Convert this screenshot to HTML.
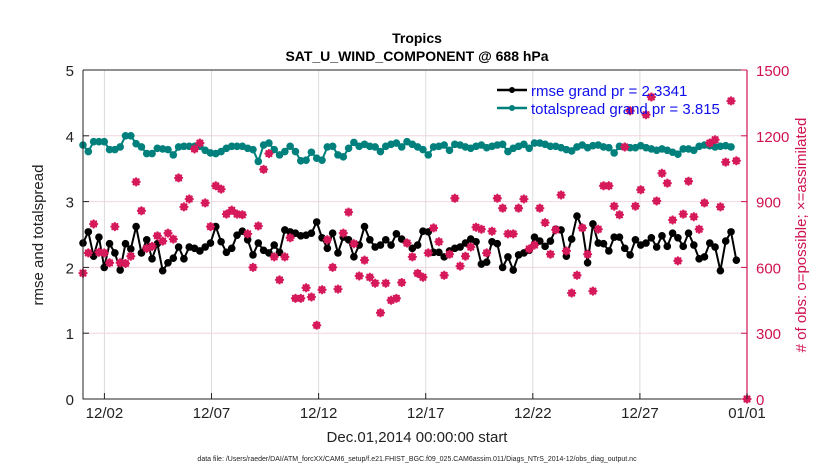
<!DOCTYPE html>
<html><head><meta charset="utf-8"><style>
body{margin:0;background:#fff;}
svg text{font-family:"Liberation Sans",Arial,sans-serif;}
</style></head><body>
<svg id="chart" width="830" height="470" xmlns="http://www.w3.org/2000/svg">
<text x="417" y="43" text-anchor="middle" font-size="14" font-weight="bold">Tropics</text>
<text x="417" y="61" text-anchor="middle" font-size="14" font-weight="bold">SAT_U_WIND_COMPONENT @ 688 hPa</text>
<g id="grid"></g>
<g id="marks"></g>
<g id="axes"></g>
<text transform="translate(43,235) rotate(-90)" text-anchor="middle" font-size="15" fill="#222">rmse and totalspread</text>
<text transform="translate(806,235) rotate(-90)" text-anchor="middle" font-size="15" fill="#d0124f"># of obs: o=possible; ×=assimilated</text>
<text x="417" y="442" text-anchor="middle" font-size="15" fill="#222">Dec.01,2014 00:00:00 start</text>
<text x="417" y="461" text-anchor="middle" font-size="7" fill="#222">data file: /Users/raeder/DAI/ATM_forcXX/CAM6_setup/f.e21.FHIST_BGC.f09_025.CAM6assim.011/Diags_NTrS_2014-12/obs_diag_output.nc</text>
<g id="legend">
<line x1="497" y1="90" x2="527" y2="90" stroke="#000" stroke-width="2.5"/>
<circle cx="512" cy="90" r="3" fill="#000"/>
<text x="531" y="96" font-size="15" fill="#1010ee">rmse grand pr = 2.3341</text>
<line x1="497" y1="108" x2="527" y2="108" stroke="#00807c" stroke-width="2.5"/>
<circle cx="512" cy="108" r="3" fill="#00807c"/>
<text x="531" y="114" font-size="15" fill="#1010ee">totalspread grand pr = 3.815</text>
</g>
</svg>
<script>
const rmse=[2.37,2.54,2.17,2.46,2.0,2.36,2.22,1.96,2.36,2.28,2.62,2.22,2.42,2.13,2.36,1.95,2.07,2.14,2.31,2.13,2.31,2.29,2.25,2.31,2.37,2.62,2.39,2.23,2.29,2.49,2.55,2.42,2.19,2.37,
2.26,2.22,2.34,2.23,2.57,2.54,2.52,2.48,2.49,2.52,2.69,2.45,2.29,2.52,2.22,2.46,2.42,2.16,2.34,2.62,2.42,2.31,2.34,2.42,2.34,2.51,2.43,2.37,2.29,2.34,2.55,
2.54,2.23,2.23,2.16,2.25,2.29,2.31,2.37,2.43,2.39,2.05,2.08,2.39,2.36,2.0,2.16,1.96,2.19,2.22,2.26,2.46,2.4,2.32,2.4,2.58,2.57,2.17,2.43,2.78,2.6,
2.07,2.66,2.37,2.36,2.25,2.46,2.46,2.29,2.19,2.42,2.34,2.37,2.45,2.31,2.48,2.32,2.52,2.45,2.32,2.52,2.34,2.13,2.16,2.37,2.31,1.95,2.4,2.54,2.11];
const spread=[3.86,3.76,3.91,3.91,3.91,3.79,3.79,3.83,4.0,4.0,3.88,3.83,3.73,3.73,3.81,3.80,3.79,3.71,3.83,3.84,3.84,3.84,3.84,3.78,3.74,3.73,3.76,3.81,3.84,3.84,3.84,3.81,3.79,3.61,
3.86,3.89,3.79,3.71,3.76,3.84,3.76,3.62,3.63,3.75,3.66,3.63,3.83,3.84,3.71,3.68,3.81,3.90,3.84,3.87,3.84,3.83,3.76,3.84,3.87,3.89,3.83,3.91,3.87,3.83,3.79,
3.71,3.83,3.84,3.86,3.78,3.87,3.86,3.83,3.81,3.84,3.86,3.82,3.84,3.86,3.87,3.76,3.81,3.84,3.87,3.81,3.89,3.89,3.87,3.84,3.84,3.82,3.79,3.77,3.83,3.86,
3.82,3.85,3.86,3.83,3.82,3.74,3.84,3.83,3.82,3.82,3.85,3.82,3.80,3.78,3.80,3.78,3.75,3.72,3.80,3.80,3.78,3.84,3.86,3.85,3.83,3.84,3.85,3.83];
const obs=[574,666,798,669,666,621,786,621,618,651,990,858,687,696,744,720,756,729,1008,876,912,1140,1167,894,786,972,957,843,861,843,840,753,600,789,
1047,1119,648,543,648,735,459,459,507,465,336,498,726,600,501,756,852,708,561,633,555,528,393,528,450,459,531,711,648,573,555,
666,780,717,564,660,915,606,651,693,783,774,666,765,915,870,753,753,870,912,684,702,870,804,660,771,930,675,483,564,780,
660,492,774,972,972,879,840,1149,1314,879,954,1296,1377,903,1029,984,816,630,843,993,831,774,894,1167,1182,876,1080,1359,1086];
const finalObsDay=31, finalObs=0;
const dayStep=30.75/124;
const xTickDays=[1,6,11,16,21,26,31];
const xTickLabels=["12/02","12/07","12/12","12/17","12/22","12/27","01/01"];
const yTicks=[0,1,2,3,4,5];
const y2Ticks=[0,300,600,900,1200,1500];

const X0=83,X1=747,Y0=399,Y1=70;
const xs=d=>X0+(d/31)*(X1-X0);
const ys=v=>Y0-(v/5)*(Y0-Y1);
const ys2=v=>Y0-(v/1500)*(Y0-Y1);
const NS="http://www.w3.org/2000/svg";
function mk(tag,attrs,parent){const e=document.createElementNS(NS,tag);for(const k in attrs)e.setAttribute(k,attrs[k]);parent.appendChild(e);return e;}
const grid=document.getElementById('grid'),marks=document.getElementById('marks'),axes=document.getElementById('axes');

yTicks.forEach(v=>{if(v>0&&v<5){const l=mk('line',{x1:X0,x2:X1,y1:ys(v),y2:ys(v),stroke:'#f0d6de','stroke-width':1},grid);

}});
xTickDays.forEach(d=>{const l=mk('line',{x1:xs(d),x2:xs(d),y1:Y1,y2:Y0,stroke:'#dcdcdc','stroke-width':1},grid);

});

let pts=spread.map((v,i)=>xs(i*dayStep)+','+ys(v)).join(' ');
const sl=mk('polyline',{points:pts,fill:'none',stroke:'#00807c','stroke-width':2},marks);


spread.forEach((v,i)=>{const c=mk('circle',{cx:xs(i*dayStep),cy:ys(v),r:3.8,fill:'#00807c'},marks);

});
pts=rmse.map((v,i)=>xs(i*dayStep)+','+ys(v)).join(' ');
const rl=mk('polyline',{points:pts,fill:'none',stroke:'#000','stroke-width':2},marks);


rmse.forEach((v,i)=>{const c=mk('circle',{cx:xs(i*dayStep),cy:ys(v),r:3.8,fill:'#000'},marks);

});
function obsMark(x,y){const g=mk('g',{},marks);


mk('circle',{cx:x,cy:y,r:3,fill:'none',stroke:'#d6195a','stroke-width':1.5},g);
mk('path',{d:`M${x-4.5} ${y}H${x+4.5}M${x} ${y-4.5}V${y+4.5}M${x-3.2} ${y-3.2}L${x+3.2} ${y+3.2}M${x-3.2} ${y+3.2}L${x+3.2} ${y-3.2}`,stroke:'#d6195a','stroke-width':1.8},g);}
obs.forEach((v,i)=>obsMark(xs(i*dayStep),ys2(v)));
obsMark(xs(finalObsDay),ys2(finalObs));

const ax=mk('path',{d:`M${X0} ${Y1}V${Y0}H${X1}M${X0} ${Y1}H${X1}`,fill:'none',stroke:'#222','stroke-width':1},axes);


const rax=mk('line',{x1:X1,x2:X1,y1:Y1,y2:Y0,stroke:'#d0124f','stroke-width':1.2},axes);


yTicks.forEach(v=>{mk('line',{x1:X0,x2:X0+6,y1:ys(v),y2:ys(v),stroke:'#222'},axes);
const t=mk('text',{x:X0-9,y:ys(v)+6,'text-anchor':'end','font-size':15,fill:'#222'},axes);t.textContent=v;

});
y2Ticks.forEach(v=>{mk('line',{x1:X1-6,x2:X1,y1:ys2(v),y2:ys2(v),stroke:'#d0124f'},axes);
const t=mk('text',{x:X1+9,y:ys2(v)+6,'font-size':15,fill:'#d0124f'},axes);t.textContent=v;

});
xTickDays.forEach((d,i)=>{mk('line',{x1:xs(d),x2:xs(d),y1:Y0,y2:Y0-6,stroke:'#222'},axes);
const t=mk('text',{x:xs(d),y:Y0+19,'text-anchor':'middle','font-size':15,fill:'#222'},axes);t.textContent=xTickLabels[i];

});
</script>
</body></html>
